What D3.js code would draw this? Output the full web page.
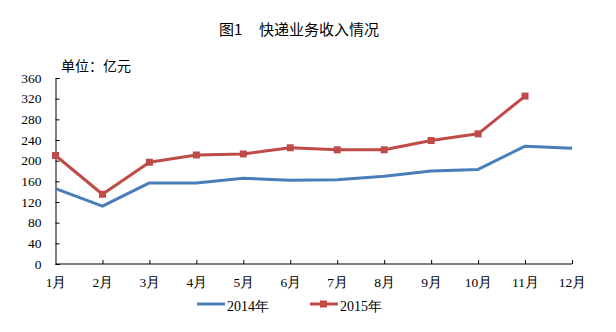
<!DOCTYPE html>
<html><head><meta charset="utf-8">
<script src="https://cdn.jsdelivr.net/npm/d3@7"></script>
<style>body{margin:0;background:#fff}svg{display:block}</style>
</head><body>
<svg id="c" width="616" height="332"></svg>
<script>
const months = ["1月","2月","3月","4月","5月","6月","7月","8月","9月","10月","11月","12月"];
const yTicks = [0,40,80,120,160,200,240,280,320,360];
const series2014 = [146,112,157,157,166,162,163,170,180,183,228,224];
const series2015 = [210,135,197,211,213,225,221,221,239,252,325];
const seriesNames = ["2014年","2015年"];
const colors = ["#4A7EBB","#BE4B48"];

const svg = d3.select("#c");
const x = d3.scalePoint().domain(months).range([55.5, 572]);
const y = d3.scaleLinear().domain([0,360]).range([264, 78]);
const serif = "'Liberation Serif','Times New Roman',serif";
const cjk = "'Noto Sans CJK SC','Noto Sans',sans-serif";

// title
svg.append("text").attr("x",219).attr("y",35).attr("font-family",cjk).attr("font-size",15).attr("fill","#000").text("图1");
svg.append("text").attr("x",259).attr("y",35).attr("font-family",cjk).attr("font-size",15).attr("fill","#000").text("快递业务收入情况");
svg.append("text").attr("x",61).attr("y",71).attr("font-family",cjk).attr("font-size",14).attr("fill","#000").text("单位：亿元");

// y axis
const ya = svg.append("g").attr("transform","translate(55.5,0)")
  .call(d3.axisLeft(y).tickValues(yTicks).tickSize(-4).tickPadding(14).tickFormat(d3.format("d")));
ya.select(".domain").attr("stroke","#000");
ya.selectAll(".tick line").attr("stroke","#000");
ya.selectAll("text").attr("font-family",serif).attr("font-size",13.5).attr("fill","#000");

// x axis
const xa = svg.append("g").attr("transform","translate(0,264)")
  .call(d3.axisBottom(x).tickSize(-4).tickPadding(13).tickSizeOuter(0));
xa.select(".domain").attr("stroke","#000").attr("d","M55.5,0H572");
xa.selectAll(".tick line").attr("stroke","#000");
xa.selectAll(".tick").filter((d,i)=>i===0).select("line").remove();
xa.selectAll("text").attr("font-family",serif).attr("font-size",13.5).attr("fill","#000");

const line = d3.line().x((d,i)=>x(months[i])).y(d=>y(d));
svg.append("path").datum(series2014).attr("d",line).attr("fill","none")
  .attr("stroke",colors[0]).attr("stroke-width",3).attr("stroke-linejoin","round");
svg.append("path").datum(series2015).attr("d",line).attr("fill","none")
  .attr("stroke",colors[1]).attr("stroke-width",3).attr("stroke-linejoin","round");
svg.selectAll("rect.m").data(series2015).enter().append("rect").attr("class","m")
  .attr("x",(d,i)=>x(months[i])-3.5).attr("y",d=>y(d)-3.5).attr("width",7).attr("height",7)
  .attr("fill",colors[1]);

// legend
const lg = svg.append("g");
lg.append("line").attr("x1",197).attr("x2",225).attr("y1",304).attr("y2",304).attr("stroke",colors[0]).attr("stroke-width",3);
lg.append("text").attr("x",227).attr("y",310.5).attr("font-family",serif).attr("font-size",14).attr("fill","#000").text(seriesNames[0]);
lg.append("line").attr("x1",310).attr("x2",338).attr("y1",304).attr("y2",304).attr("stroke",colors[1]).attr("stroke-width",3);
lg.append("rect").attr("x",320).attr("y",300.5).attr("width",7).attr("height",7).attr("fill",colors[1]);
lg.append("text").attr("x",340).attr("y",310.5).attr("font-family",serif).attr("font-size",14).attr("fill","#000").text(seriesNames[1]);
</script>
</body></html>
